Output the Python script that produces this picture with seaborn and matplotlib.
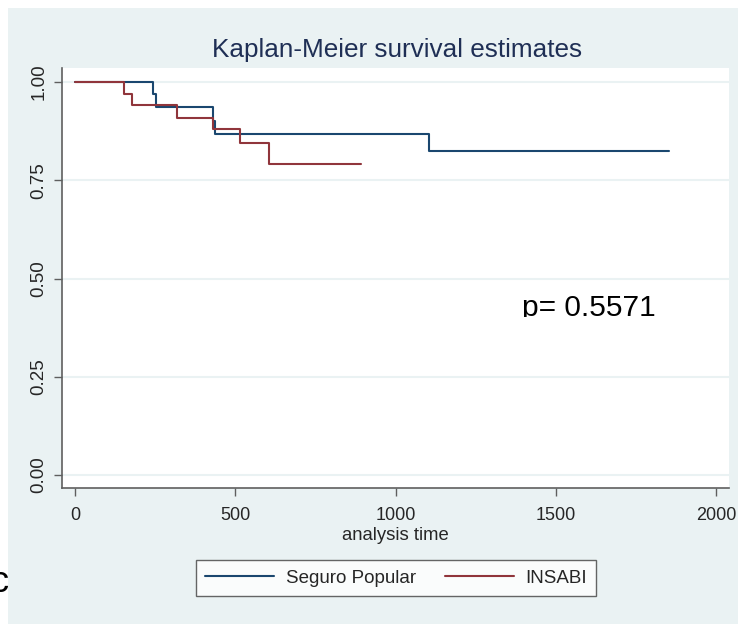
import pandas as pd
import numpy as np
import matplotlib
matplotlib.use('Agg')
import matplotlib.pyplot as plt
from matplotlib.patches import Rectangle
import seaborn as sns

# ─────────────────────────────────────────
# Data (KM step points)
# ─────────────────────────────────────────
sp_time = [0, 244, 254, 429, 436, 1104, 1853]
sp_surv = [1.000, 0.969, 0.938, 0.901, 0.868, 0.824, 0.824]

insabi_time = [0, 153, 179, 319, 429, 516, 605, 891]
insabi_surv = [1.000, 0.971, 0.941, 0.910, 0.880, 0.846, 0.792, 0.792]

groups   = ['Seguro Popular', 'INSABI']
x_ticks  = [0, 500, 1000, 1500, 2000]
y_ticks  = [0.00, 0.25, 0.50, 0.75, 1.00]
y_labels = ['0.00', '0.25', '0.50', '0.75', '1.00']
p_text   = 'p= 0.5571'

df = pd.concat([
    pd.DataFrame({'time': sp_time, 'surv': sp_surv, 'group': groups[0]}),
    pd.DataFrame({'time': insabi_time, 'surv': insabi_surv, 'group': groups[1]}),
], ignore_index=True)

# Stata s2color-ish colours
navy    = '#1a476f'
maroon  = '#90353b'
bg_grey = '#eaf2f3'
axis_c  = '#5f5f5f'

font = ['Liberation Sans', 'DejaVu Sans']

sns.set_style('white')
plt.rcParams['font.family'] = font

W, H = 738, 625
fig = plt.figure(figsize=(W / 100, H / 100), dpi=100, facecolor='white')

# grey graph region
fig.patches.append(Rectangle((8 / W, 1 - 624 / H), 730 / W, 616 / H,
                             transform=fig.transFigure, facecolor=bg_grey,
                             edgecolor='none', zorder=-10))

ax = fig.add_axes([62 / W, 1 - 488 / H, (729 - 62) / W, (488 - 68) / H])
ax.set_facecolor('white')

sns.lineplot(data=df, x='time', y='surv', hue='group',
             palette=[navy, maroon], hue_order=groups,
             estimator=None, sort=True, drawstyle='steps-post',
             linewidth=1.5, ax=ax, legend=False)

ax.set_xlim(-40.6, 2040)
ax.set_ylim(-0.033, 1.036)
ax.set_xticks(x_ticks)
ax.set_xticklabels([str(t) for t in x_ticks], fontsize=13)
ax.set_yticks(y_ticks)
ax.set_yticklabels(y_labels, fontsize=13.5, rotation=90, va='center')
ax.tick_params(axis='both', length=5.5, width=1, color=axis_c,
               direction='out', left=True, bottom=True)
ax.tick_params(axis='x', pad=8)
ax.tick_params(axis='y', pad=5)

ax.yaxis.grid(True, color=bg_grey, linewidth=1.5)
ax.xaxis.grid(False)
ax.set_axisbelow(True)

for side in ['top', 'right']:
    ax.spines[side].set_visible(False)
for side in ['left', 'bottom']:
    ax.spines[side].set_color(axis_c)
    ax.spines[side].set_linewidth(1.2)

ax.set_xlabel('analysis time', fontsize=13.3, labelpad=2)
ax.set_ylabel('')

# title
fig.text(397 / W, 1 - 57 / H, 'Kaplan-Meier survival estimates',
         fontsize=18.8, color='#1f2f55', ha='center', va='baseline')

# legend
handles = [plt.Line2D([], [], color=navy, lw=1.5),
           plt.Line2D([], [], color=maroon, lw=1.5)]
leg = fig.legend(handles, groups, loc='center',
                 bbox_to_anchor=(396 / W, 1 - 578 / H),
                 ncol=2, fontsize=13.5,
                 frameon=True, fancybox=False, edgecolor='#404040',
                 handlelength=3.7, handletextpad=0.6, columnspacing=1.55,
                 borderpad=0.5)
leg.get_frame().set_linewidth(1.0)
leg.get_frame().set_facecolor('white')

# p-value annotation, clipped at its bottom as in the reference
pt = fig.text(522 / W, 1 - 316 / H, p_text, fontsize=21.5,
              color='black', ha='left', va='baseline')
pt.set_clip_path(Rectangle((0, 1 - 317 / H), 1, 317 / H,
                           transform=fig.transFigure))

# stray letter at the left edge
fig.text(-10 / W, 1 - 592 / H, 'c', fontsize=26,
         color='black', ha='left', va='baseline')

fig.savefig('out.png', dpi=100, facecolor='white')
